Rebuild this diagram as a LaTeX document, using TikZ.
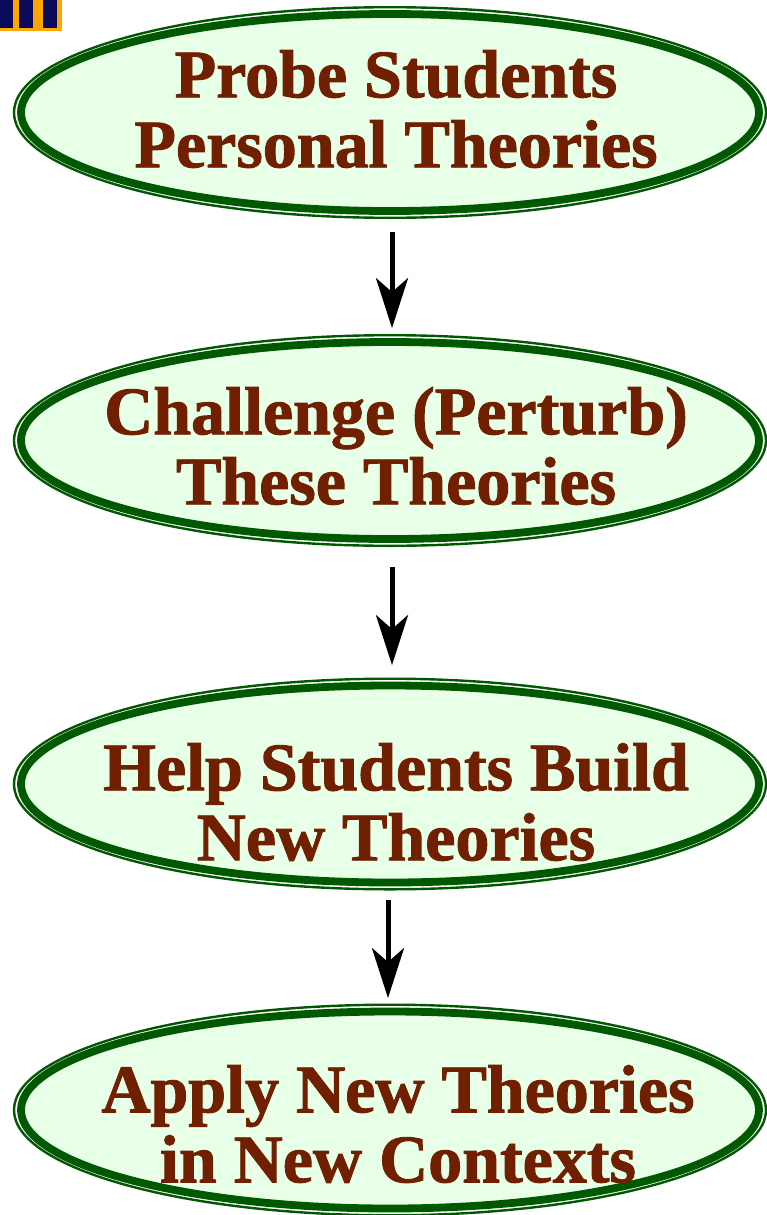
\documentclass[tikz,border=0pt]{standalone}
\usepackage{fontspec}
\setmainfont{Liberation Serif}
\usetikzlibrary{shapes.geometric,arrows.meta}

\definecolor{rimgreen}{RGB}{0,88,0}
\definecolor{paleleaf}{RGB}{232,255,232}
\definecolor{rust}{RGB}{112,32,0}
\definecolor{barorange}{RGB}{255,165,0}
\definecolor{barnavy}{RGB}{10,10,90}

\tikzset{
  stage/.style={ellipse, draw=rimgreen, line width=7.8pt, fill=paleleaf,
    inner sep=0pt, minimum width=738pt, minimum height=197pt},
  rim/.style={draw=rimgreen, line width=2.4pt},
  stagetext/.style={text=rust, align=center, inner sep=0pt,
    font=\fontsize{68}{70}\selectfont\bfseries\addfontfeature{FakeBold=1.4}},
  flow/.style={line width=5pt, -{Stealth[length=50pt,width=32pt,inset=14pt]}}
}

\begin{document}
\begin{tikzpicture}[x=1pt,y=1pt]
  \useasboundingbox (0,0) rectangle (767,-1215);

  % striped badge in the corner
  \fill[barorange] (0,0) rectangle (62,-31);
  \fill[barnavy] (0,0) rectangle (13,-28);
  \fill[barnavy] (19,0) rectangle (33,-28);
  \fill[barnavy] (43,0) rectangle (57,-28);

  % the four stages
  \node[stage] (e1) at (390,-112.5) {};
  \node[stage] (e2) at (390,-440.5) {};
  \node[stage] (e3) at (390,-784) {};
  \node[stage] (e4) at (390,-1110) {};

  % thin outer rims
  \foreach \e in {e1,e2,e3,e4}
    \draw[rim] (\e.center) ellipse [x radius=376pt, y radius=105.3pt];

  % stage labels
  \node[stagetext] (t1) at (396,-109) {Probe Students\\Personal Theories};
  \node[stagetext] (t2) at (396,-446) {Challenge (Perturb)\\These Theories};
  \node[stagetext] (t3) at (396,-802) {Help Students Build\\New Theories};
  \node[stagetext] (t4) at (398,-1124) {Apply New Theories\\in New Contexts};

  % connectors
  \draw[flow, shorten <=17pt, shorten >=10pt] ([xshift=2pt]e1.south) -- ([xshift=2pt]e2.north);
  \draw[flow, shorten <=24pt, shorten >=16.5pt] ([xshift=2pt]e2.south) -- ([xshift=2pt]e3.north);
  \draw[flow, shorten <=13.5pt, shorten >=9.5pt] ([xshift=-2pt]e3.south) -- ([xshift=-2pt]e4.north);
\end{tikzpicture}
\end{document}
